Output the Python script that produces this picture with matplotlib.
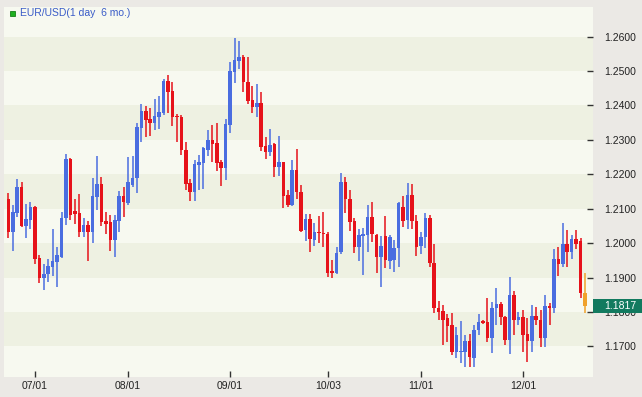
import matplotlib
matplotlib.use("Agg")
import matplotlib.pyplot as plt
from matplotlib.patches import Rectangle

# === data: daily EUR/USD candles ===
opens = [1.2127, 1.2033, 1.2088, 1.2162, 1.2050, 1.2067, 1.2106, 1.1956, 1.1898, 1.1909,
         1.1930, 1.1944, 1.1960, 1.2072, 1.2244, 1.2093, 1.2087, 1.2033, 1.2053, 1.2033,
         1.2135, 1.2172, 1.2065, 1.2062, 1.2009, 1.2065, 1.2138, 1.2116, 1.2169, 1.2188,
         1.2335, 1.2385, 1.2360, 1.2350, 1.2367, 1.2377, 1.2471, 1.2442, 1.2369, 1.2366,
         1.2271, 1.2174, 1.2149, 1.2227, 1.2234, 1.2271, 1.2300, 1.2290, 1.2237, 1.2217,
         1.2343, 1.2498, 1.2530, 1.2542, 1.2467, 1.2416, 1.2397, 1.2408, 1.2283, 1.2266,
         1.2287, 1.2222, 1.2235, 1.2140, 1.2111, 1.2212, 1.2149, 1.2038, 1.2069, 1.2009,
         1.2033, 1.2030, 1.2026, 1.1917, 1.1914, 1.1975, 1.2177, 1.2127, 1.2064, 1.1990,
         1.2022, 1.2024, 1.2075, 1.2024, 1.1959, 1.2021, 1.1949, 1.1951, 1.1985, 1.2106,
         1.2067, 1.2140, 1.2065, 1.1992, 1.2019, 1.2074, 1.1941, 1.1812, 1.1803, 1.1781,
         1.1762, 1.1684, 1.1684, 1.1684, 1.1715, 1.1665, 1.1747, 1.1774, 1.1772, 1.1723,
         1.1810, 1.1823, 1.1786, 1.1718, 1.1849, 1.1776, 1.1784, 1.1736, 1.1716, 1.1788,
         1.1776, 1.1723, 1.1817, 1.1810, 1.1953, 1.1939, 1.1997, 1.1975, 1.2011, 1.2007,
         1.1856]
highs = [1.2145, 1.2111, 1.2186, 1.2177, 1.2114, 1.2120, 1.2108, 1.1965, 1.1939, 1.1953,
         1.2040, 1.1990, 1.2090, 1.2258, 1.2246, 1.2128, 1.2142, 1.2072, 1.2065, 1.2190,
         1.2253, 1.2193, 1.2091, 1.2082, 1.2082, 1.2151, 1.2164, 1.2251, 1.2253, 1.2348,
         1.2404, 1.2399, 1.2392, 1.2418, 1.2428, 1.2476, 1.2489, 1.2469, 1.2374, 1.2372,
         1.2295, 1.2185, 1.2242, 1.2256, 1.2280, 1.2329, 1.2343, 1.2348, 1.2242, 1.2360,
         1.2527, 1.2595, 1.2588, 1.2547, 1.2542, 1.2457, 1.2463, 1.2440, 1.2309, 1.2331,
         1.2292, 1.2311, 1.2237, 1.2154, 1.2242, 1.2274, 1.2169, 1.2085, 1.2085, 1.2058,
         1.2079, 1.2091, 1.2033, 1.1951, 1.1988, 1.2205, 1.2193, 1.2154, 1.2072, 1.2040,
         1.2043, 1.2111, 1.2120, 1.2026, 1.2021, 1.2079, 1.2024, 1.2009, 1.2120, 1.2137,
         1.2176, 1.2172, 1.2082, 1.2033, 1.2087, 1.2082, 1.1997, 1.1832, 1.1820, 1.1794,
         1.1796, 1.1757, 1.1774, 1.1733, 1.1736, 1.1762, 1.1794, 1.1776, 1.1840, 1.1830,
         1.1869, 1.1830, 1.1788, 1.1901, 1.1862, 1.1801, 1.1806, 1.1781, 1.1820, 1.1815,
         1.1806, 1.1849, 1.1827, 1.1982, 1.1988, 1.2059, 1.2038, 1.2024, 1.2038, 1.2014,
         1.1912]
lows = [1.2014, 1.1978, 1.2077, 1.2046, 1.2014, 1.2040, 1.1939, 1.1883, 1.1864, 1.1888,
        1.1904, 1.1872, 1.1958, 1.2053, 1.2067, 1.2055, 1.2019, 1.2019, 1.1949, 1.1999,
        1.2096, 1.2050, 1.2026, 1.1978, 1.1960, 1.2033, 1.2075, 1.2111, 1.2162, 1.2145,
        1.2295, 1.2309, 1.2311, 1.2329, 1.2331, 1.2372, 1.2379, 1.2340, 1.2295, 1.2256,
        1.2154, 1.2123, 1.2123, 1.2154, 1.2156, 1.2253, 1.2237, 1.2210, 1.2166, 1.2183,
        1.2319, 1.2465, 1.2505, 1.2440, 1.2404, 1.2379, 1.2366, 1.2269, 1.2244, 1.2253,
        1.2191, 1.2195, 1.2101, 1.2104, 1.2108, 1.2127, 1.2033, 1.2007, 1.1975, 1.1992,
        1.1999, 1.1990, 1.1901, 1.1898, 1.1910, 1.1968, 1.2088, 1.2036, 1.1972, 1.1949,
        1.1907, 1.1975, 1.2004, 1.1912, 1.1872, 1.1927, 1.1924, 1.1917, 1.1931, 1.2046,
        1.2040, 1.2040, 1.1962, 1.1968, 1.1985, 1.1931, 1.1798, 1.1776, 1.1704, 1.1713,
        1.1675, 1.1665, 1.1652, 1.1641, 1.1641, 1.1641, 1.1733, 1.1766, 1.1713, 1.1681,
        1.1762, 1.1762, 1.1704, 1.1678, 1.1733, 1.1762, 1.1684, 1.1655, 1.1684, 1.1762,
        1.1699, 1.1699, 1.1762, 1.1796, 1.1904, 1.1930, 1.1931, 1.1953, 1.1982, 1.1840,
        1.1798]
closes = [1.2033, 1.2090, 1.2164, 1.2050, 1.2070, 1.2106, 1.1953, 1.1898, 1.1910, 1.1933,
          1.1949, 1.1965, 1.2074, 1.2244, 1.2082, 1.2084, 1.2033, 1.2053, 1.2033, 1.2138,
          1.2172, 1.2062, 1.2056, 1.2009, 1.2067, 1.2138, 1.2120, 1.2178, 1.2188, 1.2338,
          1.2385, 1.2358, 1.2350, 1.2369, 1.2382, 1.2471, 1.2440, 1.2367, 1.2366, 1.2271,
          1.2172, 1.2149, 1.2229, 1.2237, 1.2276, 1.2300, 1.2288, 1.2234, 1.2217, 1.2345,
          1.2500, 1.2532, 1.2540, 1.2467, 1.2413, 1.2397, 1.2406, 1.2280, 1.2266, 1.2285,
          1.2222, 1.2237, 1.2138, 1.2111, 1.2212, 1.2149, 1.2036, 1.2069, 1.2011, 1.2033,
          1.2028, 1.2026, 1.1914, 1.1914, 1.1972, 1.2177, 1.2127, 1.2062, 1.1990, 1.2024,
          1.2024, 1.2075, 1.2026, 1.1959, 1.1992, 1.1951, 1.2019, 1.1985, 1.2116, 1.2065,
          1.2140, 1.2065, 1.1990, 1.2019, 1.2074, 1.1941, 1.1810, 1.1801, 1.1776, 1.1760,
          1.1684, 1.1733, 1.1687, 1.1716, 1.1668, 1.1747, 1.1772, 1.1769, 1.1723, 1.1810,
          1.1823, 1.1786, 1.1718, 1.1849, 1.1776, 1.1784, 1.1733, 1.1716, 1.1788, 1.1776,
          1.1723, 1.1817, 1.1810, 1.1953, 1.1939, 1.1997, 1.1975, 1.2011, 1.1997, 1.1856,
          1.1817]

# bar index of each date label
date_ticks = [6, 27, 50, 72, 93, 116]
date_labels = ["07/01", "08/01", "09/01", "10/03", "11/01", "12/01"]
price_ticks = [1.17, 1.18, 1.19, 1.20, 1.21, 1.22, 1.23, 1.24, 1.25, 1.26]
last_price = 1.1817

UP = "#4a6de0"
DOWN = "#e6121a"
LAST = "#f0a22c"
BG = "#ebe9e5"

W, H = 642, 397
fig = plt.figure(figsize=(W / 100, H / 100), dpi=100, facecolor=BG)
ax = fig.add_axes([4 / W, 20 / H, 589 / W, 370 / H])
ax.set_facecolor("#f7f9f0")
ax.set_xlim(-0.97, 131.8)
ax.set_ylim(1.16108, 1.26863)

# alternating price bands
for lo in [1.17, 1.19, 1.21, 1.23, 1.25]:
    ax.axhspan(lo, lo + 0.01, color="#eef1e2", zorder=0, lw=0)

# candles
n = len(opens)
for i in range(n):
    o, h, l, c = opens[i], highs[i], lows[i], closes[i]
    if i == n - 1:
        col = LAST
    elif c > o:
        col = UP
    else:
        col = DOWN
    ax.vlines(i, l, h, color=col, lw=1.1, zorder=2)
    bottom = min(o, c)
    height = max(abs(c - o), 0.00035)
    ax.bar(i, height, bottom=bottom, width=0.8, color=col, lw=0, zorder=3)

for s in ax.spines.values():
    s.set_visible(False)

ax.yaxis.tick_right()
ax.set_yticks(price_ticks)
ax.set_yticklabels(["%.4f" % p for p in price_ticks])
ax.tick_params(axis="y", direction="in", length=4, width=1, color="#333333",
               pad=8, labelsize=7.5, labelcolor="#222222")
ax.set_xticks(date_ticks)
ax.set_xticklabels(date_labels)
ax.tick_params(axis="x", direction="in", length=4, width=1, color="#333333",
               pad=3, labelsize=7.5, labelcolor="#222222")
for lab in ax.get_xticklabels() + ax.get_yticklabels():
    lab.set_family("Liberation Sans")

# current price marker on the right (covers the 1.1800 label, as in the source)
fig.canvas.draw()
py = ax.transData.transform((0, last_price))[1]
fig.patches.append(Rectangle((593 / W, (py - 7) / H), 49 / W, 14 / H,
                             transform=fig.transFigure, facecolor="#127a5f",
                             edgecolor="none", zorder=5))
fig.text(620 / W, py / H, "%.4f" % last_price, color="white", fontsize=7.5,
         family="Liberation Sans", ha="center", va="center", zorder=6)

# title
fig.patches.append(Rectangle((9.5 / W, 1 - 16 / H), 5.5 / W, 5.5 / H,
                             transform=fig.transFigure, facecolor="#1fb01f",
                             edgecolor="#178017", lw=0.6, zorder=5))
fig.text(19.5 / W, 1 - 13.5 / H, "EUR/USD(1 day  6 mo.)", color="#3a5cc8",
         fontsize=7.5, family="Liberation Sans", ha="left", va="center", zorder=6)

fig.savefig("out.png", dpi=100, facecolor=BG)
